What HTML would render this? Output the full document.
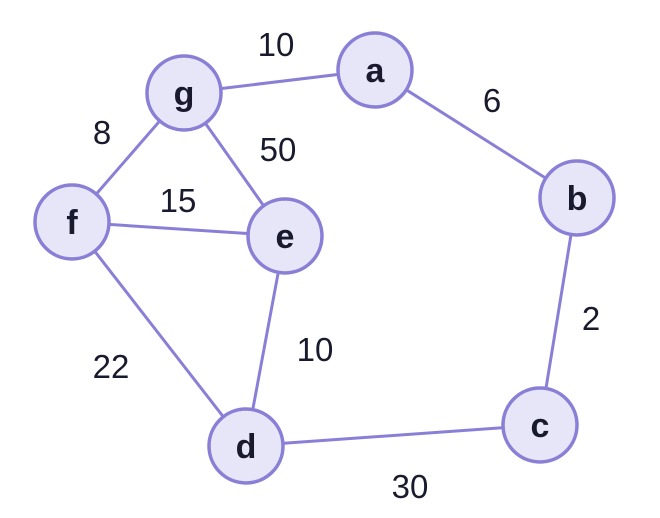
<!DOCTYPE html>
<html><head><meta charset="utf-8"><style>
html,body{margin:0;padding:0;background:#fff;}
svg{display:block;}
text{font-family:"Liberation Sans",sans-serif;}
</style></head><body>
<svg width="660" height="518" viewBox="0 0 660 518">
<g stroke="#8a7fd6" stroke-width="3" fill="none">
<line x1="184" y1="93" x2="375" y2="70"/>
<line x1="375" y1="70" x2="577" y2="198"/>
<line x1="577" y1="198" x2="540" y2="425"/>
<line x1="540" y1="425" x2="246" y2="446"/>
<line x1="246" y1="446" x2="285" y2="236"/>
<line x1="246" y1="446" x2="72" y2="222"/>
<line x1="72" y1="222" x2="285" y2="236"/>
<line x1="72" y1="222" x2="184" y2="93"/>
<line x1="184" y1="93" x2="285" y2="236"/>
</g>
<g fill="#e7e6f8" stroke="#8a7fd6" stroke-width="3.5">
<circle cx="184" cy="93" r="37"/>
<circle cx="375" cy="70" r="37"/>
<circle cx="577" cy="198" r="37"/>
<circle cx="285" cy="236" r="37"/>
<circle cx="72" cy="222" r="37"/>
<circle cx="246" cy="446" r="37"/>
<circle cx="540" cy="425" r="37"/>
</g>
<g font-size="34" font-weight="bold" fill="#1a1a2e" text-anchor="middle">
<text x="184" y="105">g</text>
<text x="375" y="82">a</text>
<text x="577" y="210">b</text>
<text x="285" y="248">e</text>
<text x="72" y="234">f</text>
<text x="246" y="458">d</text>
<text x="540" y="437">c</text>
</g>
<g font-size="33" fill="#1a1a2e" text-anchor="middle">
<text x="276" y="56">10</text>
<text x="492" y="112">6</text>
<text x="102" y="144">8</text>
<text x="278" y="161">50</text>
<text x="178" y="212">15</text>
<text x="591" y="330">2</text>
<text x="315" y="361">10</text>
<text x="111" y="378">22</text>
<text x="410" y="498">30</text>
</g>
</svg>
</body></html>
